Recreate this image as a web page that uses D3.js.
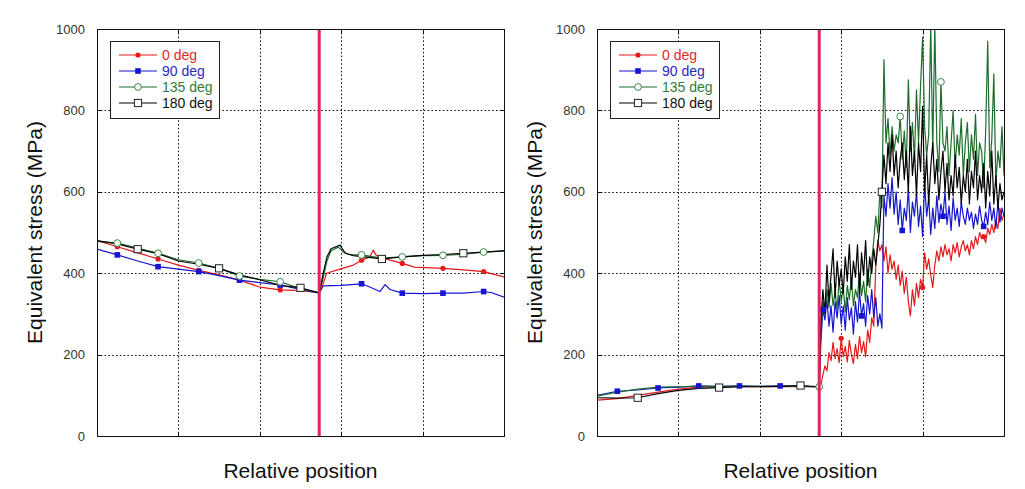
<!DOCTYPE html>
<html><head><meta charset="utf-8">
<script src="https://cdn.jsdelivr.net/npm/d3@7/dist/d3.min.js"></script>
<style>body{margin:0;background:#fff}svg{display:block}text{font-family:"Liberation Sans",Arial,sans-serif}</style>
</head><body>
<svg id="c" width="1025" height="489"></svg>
<script>
// ---------- data ----------
const seriesNames = ["0 deg", "90 deg", "135 deg", "180 deg"];
const yTicks = [0, 200, 400, 600, 800, 1000];
const xGrid = [20, 40, 60, 80];
const markerLineX = 54.6;

// Left panel: [position, stress]
const left0 = [[0,480],[5,465],[10,450],[15,435],[20,420],[25,407],[30,396],[35,383],[40,366],[45,359],[50,357],[54.6,352],[55.6,375],[56.4,400],[59.7,410],[63,420],[65,432],[67,440],[67.9,457],[68.5,445],[69.5,440],[72,432],[75,424],[78,415],[85,412],[90,408],[95,404],[100,391]];
const left90 = [[0,459],[5,445],[10,430],[15,416],[20,410],[25,404],[30,394],[35,383],[40,377],[45,371],[50,360],[54.6,351],[55.6,369],[60,370],[65,374],[67,366],[69.5,355],[70.8,372],[72,360],[75,351],[80,350],[85,351],[90,351],[95,355],[97,352],[100,341]];
const left135 = [[0,478],[5,474],[10,462],[15,449],[20,433],[25,425],[30,412],[35,393],[40,385],[45,379],[50,362],[54.6,352],[55.6,390],[56.5,430],[57.5,455],[59.3,464],[60.5,452],[62,446],[65,445],[70,437],[75,440],[80,443],[85,444],[90,447],[95,452],[100,455]];
const left180 = [[0,480],[5,472],[10,459],[15,448],[20,430],[25,422],[30,412],[35,396],[40,384],[45,370],[50,364],[54.6,352],[55.6,400],[56.5,440],[57.5,460],[59.7,469],[61,449],[63,443],[70,435],[75,440],[80,444],[85,446],[90,449],[95,452],[100,455]];

// Right panel: smooth part before the line [position, stress]
const right0Smooth = [[0,88],[5,92],[10,100],[15,108],[20,115],[25,120],[30,121],[35,122],[40,121],[45,121],[50,121],[54.6,121]];
const right90Smooth = [[0,100],[5,110],[10,113],[15,118],[20,120],[25,123],[30,122],[35,123],[40,122],[45,123],[50,122],[54.6,121]];
const right135Smooth = [[0,98],[5,108],[10,115],[15,120],[20,121],[25,122],[30,122],[35,122],[40,122],[45,122],[50,122],[54.6,121]];
const right180Smooth = [[0,94],[5,93],[10,94],[15,104],[20,112],[25,117],[30,119],[35,121],[40,121],[45,122],[50,124],[54.6,121]];

// Right panel: noisy part, sampled at positions 55.0, 55.5, ... 100.0
const rightNoisyX = d3.range(55, 100.001, 0.5);
const right0Noisy = [125,150,172,160,205,185,230,190,215,180,240,195,220,182,235,200,178,225,190,245,205,232,195,260,230,290,270,420,480,455,470,
 430,465,400,445,410,430,385,420,370,405,350,390,330,295,360,320,375,340,385,365,450,410,435,395,365,420,455,430,465,440,470,445,460,430,470,450,475,440,465,480,455,470,445,480,460,490,470,500,485,490,475,510,495,520,500,530,510,560,530,545];
const right90Noisy = [230,310,285,335,270,320,255,330,290,345,275,320,260,340,285,315,250,330,280,355,295,325,270,345,300,360,290,340,270,300,265,
 590,540,620,560,635,545,600,520,580,505,560,530,610,500,575,540,600,515,565,490,620,540,585,495,560,510,590,525,570,540,600,520,565,505,585,530,560,515,575,540,520,560,530,550,510,545,520,565,530,515,550,520,575,530,560,510,575,525,560,540];
const right135Noisy = [250,330,300,360,315,375,320,355,310,385,330,365,305,370,335,390,320,360,340,400,345,380,330,410,365,430,480,540,500,600,560,
 925,720,780,690,760,700,740,720,785,680,750,660,875,700,770,680,850,720,860,980,760,690,740,1010,700,1010,720,650,870,720,700,760,640,720,800,660,740,690,780,640,720,770,650,740,680,790,640,720,700,610,750,970,660,730,890,620,700,660,760,640];
const right180Noisy = [280,360,300,420,330,395,460,340,430,370,410,350,440,380,470,360,430,390,470,350,450,395,480,370,440,400,460,420,470,520,600,
 690,620,720,650,740,640,700,610,680,720,630,700,600,760,640,700,590,720,650,810,600,690,570,660,720,620,680,580,650,700,600,670,580,640,590,690,610,660,570,640,600,680,570,650,610,700,580,640,600,670,560,650,590,700,570,640,560,620,580,600];

// marker positions (x) per series
const leftMarks = [[5,15,25,35,45,65,75,85,95],[5,15,25,35,45,65,75,85,95],[5,15,25,35,45,65,75,85,95],[10,30,50,70,90]];
const rightMarks = [[60,80,95],[5,15,25,35,45,55.5,65,75,85,95],[54.6,74.5,84.5],[10,30,50,70]];

// ---------- drawing ----------
const colors = ["#e3191c", "#1515d0", "#1f6e2c", "#000000"];
const textColors = ["#e3262b", "#2a2ac0", "#2f7d3a", "#111111"];
const svg = d3.select("#c");

function buildRight(smooth, noisy) {
  return smooth.concat(rightNoisyX.map((x, i) => [x, noisy[i]]));
}
const rightSeries = [
  buildRight(right0Smooth, right0Noisy),
  buildRight(right90Smooth, right90Noisy),
  buildRight(right135Smooth, right135Noisy),
  buildRight(right180Smooth, right180Noisy)
];
const leftSeries = [left0, left90, left135, left180];

function drawMarker(g, kind, x, y) {
  if (kind === 0) g.append("circle").attr("cx", x).attr("cy", y).attr("r", 2.6).attr("fill", colors[0]);
  else if (kind === 1) g.append("rect").attr("x", x - 2.8).attr("y", y - 2.8).attr("width", 5.6).attr("height", 5.6).attr("fill", colors[1]);
  else if (kind === 2) g.append("circle").attr("cx", x).attr("cy", y).attr("r", 3.4).attr("fill", "#fff").attr("stroke", "#3a8a45").attr("stroke-width", 1);
  else g.append("rect").attr("x", x - 3.6).attr("y", y - 3.6).attr("width", 7.2).attr("height", 7.2).attr("fill", "#fff").attr("stroke", "#222").attr("stroke-width", 1);
}

function panel(left, seriesList, marks, id) {
  const top = 29, bottom = 436, right = left + 407;
  const x = d3.scaleLinear().domain([0, 100]).range([left, right]);
  const y = d3.scaleLinear().domain([0, 1000]).range([bottom, top]);
  const g = svg.append("g");

  g.append("clipPath").attr("id", "clip" + id).append("rect")
    .attr("x", left).attr("y", top).attr("width", right - left).attr("height", bottom - top);

  // grid
  const grid = g.append("g").attr("stroke", "#111").attr("stroke-width", 1).attr("stroke-dasharray", "1.6,2.2");
  xGrid.forEach(v => grid.append("line").attr("x1", Math.round(x(v)) + 0.5).attr("x2", Math.round(x(v)) + 0.5).attr("y1", top).attr("y2", bottom));
  yTicks.filter(v => v > 0 && v < 1000).forEach(v => grid.append("line").attr("x1", left).attr("x2", right).attr("y1", Math.round(y(v)) + 0.5).attr("y2", Math.round(y(v)) + 0.5));

  // axis labels via d3 axis
  const ax = d3.axisLeft(y).tickValues(yTicks).tickSize(0).tickPadding(12).tickFormat(d3.format("d"));
  const axg = g.append("g").attr("transform", `translate(${left},0)`).call(ax);
  axg.select(".domain").remove();
  axg.selectAll("text").attr("font-size", 13).attr("fill", "#333").attr("font-family", "Liberation Sans, Arial, sans-serif");

  // lines
  const line = d3.line().x(d => x(d[0])).y(d => y(d[1]));
  const lg = g.append("g").attr("clip-path", `url(#clip${id})`);
  seriesList.forEach((s, i) => {
    lg.append("path").datum(s).attr("d", line).attr("fill", "none").attr("stroke", colors[i]).attr("stroke-width", 1.2).attr("stroke-linejoin", "round");
  });
  // markers
  seriesList.forEach((s, i) => {
    marks[i].forEach(mx => {
      const p = s.find(d => Math.abs(d[0] - mx) < 1e-6);
      if (p) drawMarker(lg, i, x(p[0]), y(p[1]));
    });
  });

  // vertical line
  g.append("line").attr("x1", x(markerLineX)).attr("x2", x(markerLineX)).attr("y1", top).attr("y2", bottom)
    .attr("stroke", "#e0245c").attr("stroke-width", 3);

  // frame
  g.append("rect").attr("x", left + 0.5).attr("y", top + 0.5).attr("width", right - left).attr("height", bottom - top)
    .attr("fill", "none").attr("stroke", "#111").attr("stroke-width", 1);
  const tk = g.append("g").attr("stroke", "#111").attr("stroke-width", 1);
  xGrid.forEach(v => {
    const xx = Math.round(x(v)) + 0.5;
    tk.append("line").attr("x1", xx).attr("x2", xx).attr("y1", top).attr("y2", top + 4);
    tk.append("line").attr("x1", xx).attr("x2", xx).attr("y1", bottom - 4).attr("y2", bottom);
  });
  yTicks.filter(v => v > 0 && v < 1000).forEach(v => {
    const yy = Math.round(y(v)) + 0.5;
    tk.append("line").attr("x1", left).attr("x2", left + 4).attr("y1", yy).attr("y2", yy);
    tk.append("line").attr("x1", right - 4).attr("x2", right).attr("y1", yy).attr("y2", yy);
  });

  // legend
  const lx = left + 13, ly = 41;
  const leg = g.append("g");
  leg.append("rect").attr("x", lx + 0.5).attr("y", ly + 0.5).attr("width", 109).attr("height", 77)
    .attr("fill", "#fff").attr("stroke", "#222").attr("stroke-width", 1);
  seriesNames.forEach((name, i) => {
    const ry = ly + 14 + i * 16;
    leg.append("line").attr("x1", lx + 9).attr("x2", lx + 47).attr("y1", ry).attr("y2", ry).attr("stroke", colors[i]).attr("stroke-width", 1);
    drawMarker(leg, i, lx + 28, ry);
    leg.append("text").attr("x", lx + 52).attr("y", ry).attr("dy", "0.36em").attr("font-size", 14).attr("fill", textColors[i]).text(name);
  });

  // titles
  g.append("text").attr("transform", `translate(${left - 62},${(top + bottom) / 2}) rotate(-90)`)
    .attr("text-anchor", "middle").attr("dy", "0.35em").attr("font-size", 21).attr("fill", "#111").text("Equivalent stress (MPa)");
  g.append("text").attr("x", (left + right) / 2).attr("y", 478).attr("text-anchor", "middle")
    .attr("font-size", 21).attr("fill", "#111").text("Relative position");
}

panel(97, leftSeries, leftMarks, "L");
panel(597, rightSeries, rightMarks, "R");
</script>
</body></html>
